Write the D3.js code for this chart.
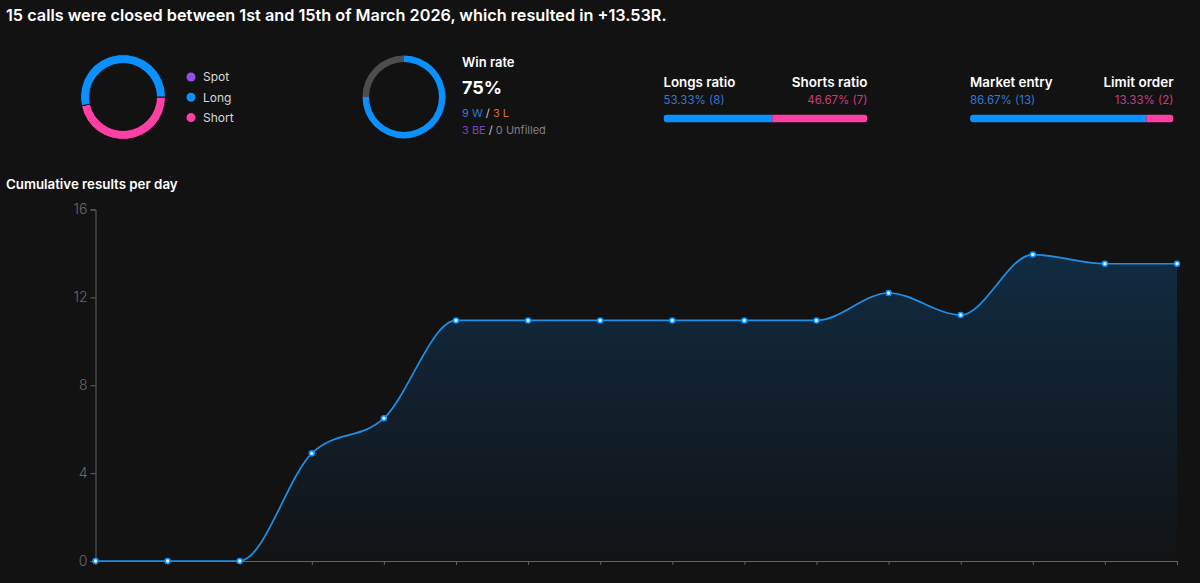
<!DOCTYPE html>
<html><head><meta charset="utf-8">
<script src="https://cdn.jsdelivr.net/npm/d3@7"></script>
<style>html,body{margin:0;padding:0;background:#121212;overflow:hidden}svg{display:block}text{font-family:Inter,"Noto Sans",sans-serif}</style>
</head><body><svg id="c" width="1200" height="583"></svg>
<script>
const days = [0,1,2,3,4,5,6,7,8,9,10,11,12,13,14,15];
const cumulative = [0,0,0,4.9,6.5,10.95,10.95,10.95,10.95,10.95,10.95,12.2,11.2,13.95,13.53,13.53];
const yTicks = [0,4,8,12,16];
const directionNames = ["Long","Short"];
const directionCounts = [8,7];
const legendNames = ["Spot","Long","Short"];
const winParts = [9,3];
const BLUE="#0A90FF",PINK="#FF3FA4",PURPLE="#9450EE",GREY="#4d4d4d";
const legendColors=[PURPLE,BLUE,PINK];
const svg=d3.select("#c");
function T(x,y,s,size,fill,weight,anchor){return svg.append("text").attr("x",x).attr("y",y).attr("font-size",size).attr("fill",fill).attr("font-weight",weight||400).attr("text-anchor",anchor||"start").text(s);}
T(6,21,"15 calls were closed between 1st and 15th of March 2026, which resulted in +13.53R.",16.25,"#fff",600);
const g1=svg.append("g").attr("transform","translate(123,97)");
const pie1=d3.pie().sort(null).startAngle(Math.PI/2).endAngle(Math.PI/2+2*Math.PI);
const arc1=d3.arc().innerRadius(33.5).outerRadius(42.5);
g1.selectAll("path").data(pie1([directionCounts[1],directionCounts[0]])).join("path").attr("d",arc1)
 .attr("fill",(d,i)=>i==0?PINK:BLUE).attr("stroke","#121212").attr("stroke-width",1);
legendNames.forEach((n,i)=>{const y=77+i*20.3;svg.append("circle").attr("cx",191).attr("cy",y).attr("r",4.5).attr("fill",legendColors[i]);T(203,y+4.3,n,12,"#d8d8d8",400);});
const g2=svg.append("g").attr("transform","translate(404,97)");
const pie2=d3.pie().sort(null);
const arc2=d3.arc().innerRadius(35).outerRadius(41.5);
g2.selectAll("path").data(pie2(winParts)).join("path").attr("d",arc2).attr("fill",(d,i)=>i==0?BLUE:GREY);
T(462,67,"Win rate",13,"#fff",600);
T(462,94,"75%",18,"#fff",700);
const wl=svg.append("text").attr("x",462).attr("y",117).attr("font-size",11);
[["9 W","#2f78d4"],[" / ","#ccc"],["3 L","#d9702f"]].forEach(a=>wl.append("tspan").attr("fill",a[1]).attr("xml:space","preserve").text(a[0]));
const be=svg.append("text").attr("x",462).attr("y",134).attr("font-size",11);
[["3 BE","#7444c0"],[" / ","#ccc"],["0 Unfilled","#808080"]].forEach(a=>be.append("tspan").attr("fill",a[1]).attr("xml:space","preserve").text(a[0]));
function ratio(x0,x1,l,r,lv,rv,share){
 T(x0,87,l,13.3,"#fff",600);T(x1,87,r,13.5,"#fff",600,"end");
 T(x0,104,lv,11.5,"#2f78d4");T(x1,104,rv,11.5,"#c93a86",400,"end");
 const s=d3.scaleLinear().domain([0,1]).range([x0,x1]);
 const id="clip"+Math.round(x0);
 svg.append("clipPath").attr("id",id).append("rect").attr("x",x0).attr("y",114.5).attr("width",x1-x0).attr("height",8).attr("rx",4);
 const g=svg.append("g").attr("clip-path",`url(#${id})`);
 g.append("rect").attr("x",x0).attr("y",114.5).attr("width",s(share)-x0).attr("height",8).attr("fill",BLUE);
 g.append("rect").attr("x",s(share)).attr("y",114.5).attr("width",x1-s(share)).attr("height",8).attr("fill",PINK);
}
ratio(663.5,867.5,"Longs ratio","Shorts ratio","53.33% (8)","46.67% (7)",8/15);
ratio(970,1173.5,"Market entry","Limit order","86.67% (13)","13.33% (2)",13/15);
T(6,189,"Cumulative results per day",13.3,"#fff",600);
const x=d3.scaleLinear().domain([0,15]).range([95.5,1177]);
const y=d3.scaleLinear().domain([0,16]).range([561,209.5]);
const defs=svg.append("defs");
const grad=defs.append("linearGradient").attr("id","ag").attr("x1",0).attr("x2",0).attr("y1",0).attr("y2",1);
grad.append("stop").attr("offset",0).attr("stop-color",BLUE).attr("stop-opacity",0.2);
grad.append("stop").attr("offset",1).attr("stop-color",BLUE).attr("stop-opacity",0.01);
const area=d3.area().x((d,i)=>x(days[i])).y0(y(0)).y1(d=>y(d)).curve(d3.curveMonotoneX);
const line=d3.line().x((d,i)=>x(days[i])).y(d=>y(d)).curve(d3.curveMonotoneX);
const axc="#626262";
const ay=d3.axisLeft(y).tickValues(yTicks).tickSize(5).tickPadding(3);
const ax=d3.axisBottom(x).tickValues(days).tickSize(4).tickFormat("");
const gy=svg.append("g").attr("transform","translate(95.5,0)").call(ay);
const gx=svg.append("g").attr("transform","translate(0,561)").call(ax);
[gy,gx].forEach(g=>{g.selectAll("path,line").attr("stroke",axc);g.selectAll("text").attr("fill","#6a6a6a").attr("font-size",14).attr("font-weight",300).attr("font-family","Inter");});
svg.append("path").datum(cumulative).attr("d",area).attr("fill","url(#ag)");
svg.append("path").datum(cumulative).attr("d",line).attr("fill","none").attr("stroke","#1E90E8").attr("stroke-width",1.7);
svg.selectAll(".pt").data(cumulative).join("circle").attr("class","pt").attr("cx",(d,i)=>x(days[i])).attr("cy",d=>y(d)).attr("r",2.5).attr("fill","#e4f5ff").attr("stroke",BLUE).attr("stroke-width",1.6);
</script></body></html>
